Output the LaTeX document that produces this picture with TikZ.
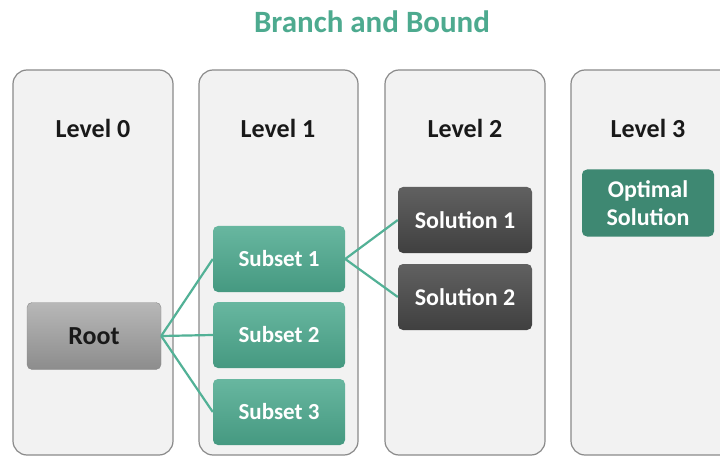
\documentclass[tikz,border=0pt]{standalone}
\usepackage{fontspec}
\setmainfont{Carlito}
\definecolor{teal1}{HTML}{4DAA8F}
\definecolor{panelfill}{HTML}{F2F2F2}
\definecolor{panelline}{HTML}{8A8A8A}
\definecolor{linkcol}{HTML}{52B196}
\begin{document}
\begin{tikzpicture}[x=1pt,y=-1pt,
  panel/.style={draw=panelline,line width=1.2pt,fill=panelfill,rounded corners=14pt},
  lvl/.style={font=\bfseries\fontsize{26}{30}\selectfont,text=black!90},
  box/.style={rounded corners=5pt,minimum width=#1,inner sep=0pt,align=center},
  rootbox/.style={box=134pt,minimum height=67pt,draw=black!45,top color=black!28,bottom color=black!45,
    font=\bfseries\fontsize{26}{30}\selectfont,text=black!90},
  subbox/.style={box=132pt,minimum height=66pt,draw=none,top color=teal1!85!white,bottom color=teal1!90!black,
    font=\bfseries\fontsize{23}{27}\selectfont,text=white},
  solbox/.style={box=134pt,minimum height=66pt,draw=none,top color=black!62,bottom color=black!75,
    font=\bfseries\fontsize{24}{28}\selectfont,text=white},
  optbox/.style={box=132pt,minimum height=67pt,draw=none,fill=teal1!80!black,
    font=\bfseries\fontsize{24}{28}\selectfont,text=white},
  link/.style={draw=linkcol,line width=2.2pt}]
\useasboundingbox (0,0) rectangle (720,457);
\fill[white] (0,0) rectangle (720,457);

% title
\node[font=\bfseries\fontsize{31}{36}\selectfont,text=teal1] (title) at (372,22) {Branch and Bound};

% level columns
\draw[panel] (13,70) rectangle (173,455);
\draw[panel] (199,70) rectangle (358,455);
\draw[panel] (385,70) rectangle (545,455);
\draw[panel] (571,70) rectangle (740,455);

\node[lvl] (l0) at (93,128) {Level 0};
\node[lvl] (l1) at (278,128) {Level 1};
\node[lvl] (l2) at (465,128) {Level 2};
\node[lvl] (l3) at (648,128) {Level 3};

% tree nodes
\node[rootbox] (root) at (94,336) {Root};
\node[subbox] (s1) at (279,259) {Subset 1};
\node[subbox] (s2) at (279,335) {Subset 2};
\node[subbox] (s3) at (279,412) {Subset 3};
\node[solbox] (sol1) at (465,220) {Solution 1};
\node[solbox] (sol2) at (465,297) {Solution 2};
\node[optbox] (opt) at (648,203) {Optimal\\Solution};

% branches
\draw[link] (root.east) -- (s1.west);
\draw[link] (root.east) -- (s2.west);
\draw[link] (root.east) -- (s3.west);
\draw[link] (s1.east) -- (sol1.west);
\draw[link] (s1.east) -- (sol2.west);
\end{tikzpicture}
\end{document}
